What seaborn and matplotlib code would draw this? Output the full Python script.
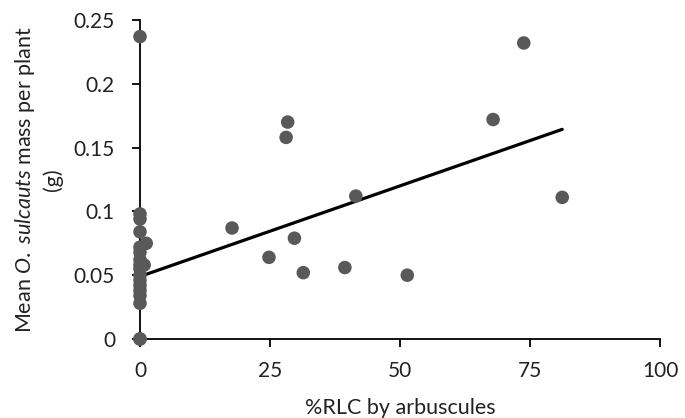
import matplotlib
matplotlib.use("Agg")
import matplotlib.pyplot as plt
import seaborn as sns
import pandas as pd
import numpy as np

# data
rlc_arbuscules = [0, 0, 0, 0, 0, 0, 0, 0, 0, 0, 0, 0, 0, 0, 0, 0, 0,
                  1.2, 0.8,
                  17.7, 24.8, 28.4, 28.1, 29.7, 31.4, 39.4, 41.5, 51.4,
                  67.9, 73.8, 81.2]
weevil_mass = [0.237, 0.098, 0.094, 0.084, 0.072, 0.068, 0.062, 0.058, 0.055,
               0.050, 0.046, 0.042, 0.038, 0.034, 0.028, 0.0, 0.0,
               0.075, 0.058,
               0.087, 0.064, 0.170, 0.158, 0.079, 0.052, 0.056, 0.112, 0.050,
               0.172, 0.232, 0.111]
trend_intercept = 0.049
trend_slope = 0.00142
x_ticks = [0, 25, 50, 75, 100]
y_ticks = [0, 0.05, 0.1, 0.15, 0.2, 0.25]
y_tick_labels = ["0", "0.05", "0.1", "0.15", "0.2", "0.25"]

df = pd.DataFrame({"x": rlc_arbuscules, "y": weevil_mass})

sns.set_theme(style="ticks")
plt.rcParams["font.family"] = ["Lato", "DejaVu Sans"]
plt.rcParams["mathtext.fontset"] = "custom"
plt.rcParams["mathtext.rm"] = "Lato"
plt.rcParams["mathtext.it"] = "Lato:italic"

fig = plt.figure(figsize=(6.85, 4.18), dpi=100)
ax = fig.add_axes([140/685, 1-339/418, 520/685, 319/418])

trend_x = np.array([0, max(rlc_arbuscules)])
ax.plot(trend_x, trend_intercept + trend_slope * trend_x, color="black",
        lw=2.3, solid_capstyle="round", zorder=3)
sns.scatterplot(data=df, x="x", y="y", ax=ax, color="#595959", s=95,
                edgecolor="none", linewidth=0, zorder=4, clip_on=False)

ax.set_xlim(0, 100)
ax.set_ylim(0, 0.25)
ax.set_xticks(x_ticks)
ax.set_xticklabels([str(t) for t in x_ticks])
ax.set_yticks(y_ticks)
ax.set_yticklabels(y_tick_labels)
ax.tick_params(axis="both", labelsize=15, colors="black", width=1.3,
               length=6, direction="out")
ax.tick_params(axis="y", pad=12)
ax.tick_params(axis="x", pad=10)
ax.tick_params(axis="both", labelcolor="#222222")
for side in ["top", "right"]:
    ax.spines[side].set_visible(False)
for side in ["left", "bottom"]:
    ax.spines[side].set_color("black")
    ax.spines[side].set_linewidth(1.3)

ax.set_xlabel("%RLC by arbuscules", fontsize=15.5, labelpad=12, color="#222222")
ax.set_ylabel("Mean $\\mathit{O.\\ sulcauts}$ mass per plant\n(g)",
              fontsize=15.5, labelpad=8, multialignment="center", color="#222222",
              linespacing=1.3)

fig.savefig("out.png", dpi=100)
